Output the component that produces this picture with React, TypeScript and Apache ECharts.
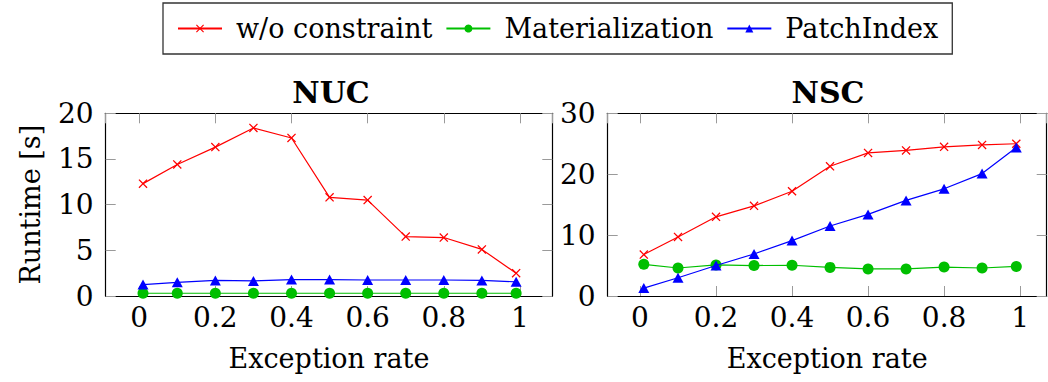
import React, { useEffect, useRef } from "react";
import * as echarts from "echarts";

const exceptionRates = [0.01, 0.1, 0.2, 0.3, 0.4, 0.5, 0.6, 0.7, 0.8, 0.9, 0.99];

const nucNoConstraint = [12.3, 14.4, 16.3, 18.4, 17.3, 10.8, 10.5, 6.5, 6.4, 5.1, 2.5];
const nucMaterialization = [0.3, 0.3, 0.3, 0.3, 0.3, 0.3, 0.3, 0.3, 0.3, 0.3, 0.3];
const nucPatchIndex = [1.25, 1.5, 1.7, 1.65, 1.8, 1.8, 1.75, 1.75, 1.75, 1.7, 1.55];

const nscNoConstraint = [6.8, 9.7, 13.0, 14.8, 17.2, 21.3, 23.5, 23.9, 24.5, 24.8, 25.0];
const nscMaterialization = [5.2, 4.6, 5.1, 5.0, 5.05, 4.7, 4.45, 4.45, 4.75, 4.6, 4.85];
const nscPatchIndex = [1.3, 3.0, 5.0, 6.9, 9.1, 11.5, 13.4, 15.7, 17.6, 20.1, 24.4];

const seriesNames = ["w/o constraint", "Materialization", "PatchIndex"];
const panelTitles = ["NUC", "NSC"];

const FONT = "DejaVu Serif";
const CROSS = "path://M0,1L1,0L5,4L9,0L10,1L6,5L10,9L9,10L5,6L1,10L0,9L4,5Z";

function pair(xs: number[], ys: number[]) {
  return xs.map((x, i) => [x, ys[i]]);
}

export default function App() {
  const ref = useRef<HTMLDivElement>(null);
  useEffect(() => {
    if (!ref.current) return;
    const chart = echarts.init(ref.current, null, { renderer: "svg" });

    const tickStyle = { show: true, inside: true, length: 10, lineStyle: { color: "#9a9a9a", width: 1 } };
    const lineStyle = { show: true, onZero: false, lineStyle: { color: "#000", width: 1.2 } };
    const labelStyle = { fontFamily: FONT, fontSize: 28, color: "#000" };
    const nameStyle = { fontFamily: FONT, fontSize: 27, color: "#000" };

    const xBottom = (grid: number, min: number, max: number) => ({
      type: "value", gridIndex: grid, position: "bottom", min, max,
      minInterval: 0.2, maxInterval: 0.2, splitNumber: 5,
      axisLine: lineStyle, axisTick: tickStyle, splitLine: { show: false },
      axisLabel: { ...labelStyle, margin: 7, showMinLabel: false, showMaxLabel: false },
      name: "Exception rate", nameLocation: "middle", nameGap: 49,
      nameTextStyle: nameStyle,
    });
    const xTop = (grid: number, min: number, max: number) => ({
      type: "value", gridIndex: grid, position: "top", min, max,
      minInterval: 0.2, maxInterval: 0.2, splitNumber: 5,
      axisLine: lineStyle, axisTick: tickStyle, splitLine: { show: false },
      axisLabel: { show: false },
    });
    const yLeft = (grid: number, max: number, interval: number, name?: string) => ({
      type: "value", gridIndex: grid, position: "left", min: 0, max, interval,
      axisLine: lineStyle, axisTick: tickStyle, splitLine: { show: false },
      axisLabel: { ...labelStyle, margin: 12 },
      name: name || "", nameLocation: "middle", nameGap: 62, nameRotate: 90,
      nameTextStyle: nameStyle,
    });
    const yRight = (grid: number, max: number, interval: number) => ({
      type: "value", gridIndex: grid, position: "right", min: 0, max, interval,
      axisLine: lineStyle, axisTick: tickStyle, splitLine: { show: false },
      axisLabel: { show: false },
    });

    const mk = (name: string, data: number[], grid: number) => {
      const idx = seriesNames.indexOf(name);
      const color = ["#ff0000", "#00bf00", "#0000ff"][idx];
      const symbol = [CROSS, "circle", "triangle"][idx];
      const size = [9, 11, [11, 10]][idx];
      return {
        type: "line", name, xAxisIndex: grid * 2, yAxisIndex: grid * 2,
        data: pair(exceptionRates, data),
        symbol, symbolSize: size, showSymbol: true,
        lineStyle: { color, width: 1.2 },
        itemStyle: { color },
        z: 2 + idx,
      };
    };

    chart.setOption({
      animation: false,
      backgroundColor: "#fff",
      textStyle: { fontFamily: FONT },
      legend: {
        left: 163, top: 3,
        padding: [12, 14, 12, 14],
        borderColor: "#333", borderWidth: 1.3, backgroundColor: "#fff",
        itemWidth: 44, itemHeight: 10, itemGap: 13,
        textStyle: { fontFamily: FONT, fontSize: 27, color: "#000", padding: [0, 0, 0, 9] },
        data: seriesNames,
      },
      graphic: [
        { type: "text", x: 331, y: 92, style: { text: panelTitles[0], align: "center", verticalAlign: "middle", fontFamily: FONT, fontSize: 30, fontWeight: "bold", fill: "#000" } },
        { type: "text", x: 828, y: 92, style: { text: panelTitles[1], align: "center", verticalAlign: "middle", fontFamily: FONT, fontSize: 30, fontWeight: "bold", fill: "#000" } },
      ],
      grid: [
        { left: 105.7, right: 1048 - 552.3, top: 113.3, height: 182.7 },
        { left: 607.7, right: 1.3, top: 113.3, height: 182.7 },
      ],
      xAxis: [
        xBottom(0, -0.088, 1.085),
        xTop(0, -0.088, 1.085),
        xBottom(1, -0.085, 1.07),
        xTop(1, -0.085, 1.07),
      ],
      yAxis: [
        yLeft(0, 20, 5, "Runtime [s]"),
        yRight(0, 20, 5),
        yLeft(1, 30, 10),
        yRight(1, 30, 10),
      ],
      series: [
        mk("w/o constraint", nucNoConstraint, 0),
        mk("Materialization", nucMaterialization, 0),
        mk("PatchIndex", nucPatchIndex, 0),
        mk("w/o constraint", nscNoConstraint, 1),
        mk("Materialization", nscMaterialization, 1),
        mk("PatchIndex", nscPatchIndex, 1),
      ],
    });
    return () => chart.dispose();
  }, []);
  return <div ref={ref} style={{ width: 1048, height: 382, position: "fixed", left: 0, top: 0 }} />;
}
